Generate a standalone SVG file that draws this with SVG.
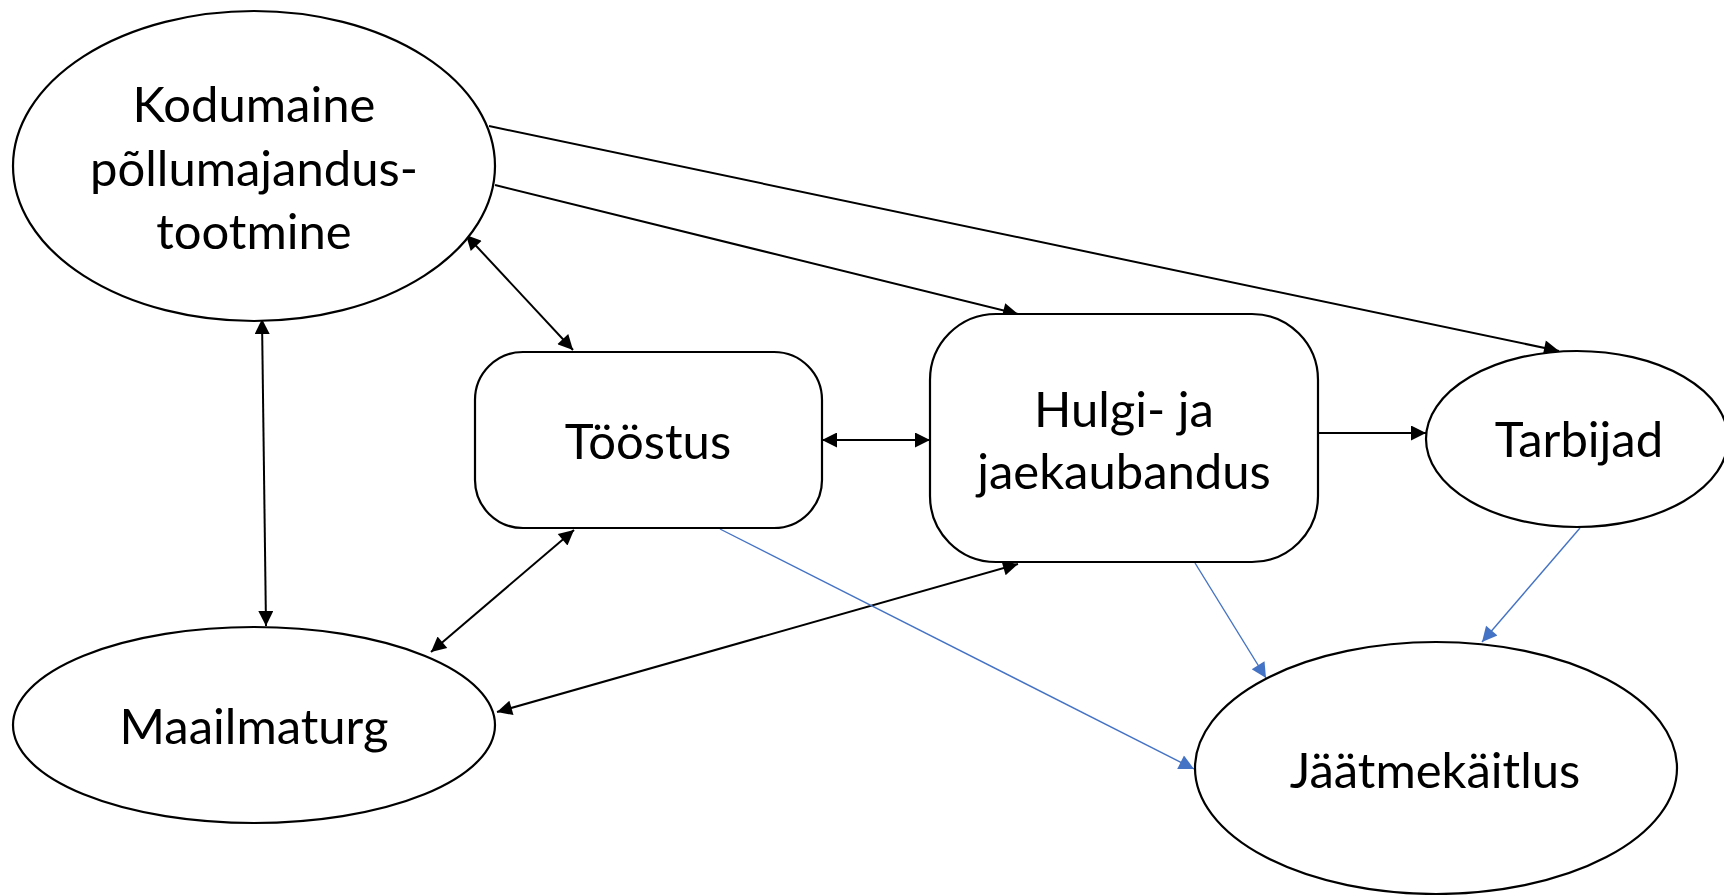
<svg xmlns="http://www.w3.org/2000/svg" width="1724" height="895" viewBox="0 0 1724 895">
<style>
.node{fill:#fff;stroke:#000;stroke-width:2.2}
.lbl{font-family:Lato,"Open Sans","Liberation Sans",sans-serif;font-size:49px;fill:#000;text-anchor:middle}
.blk{stroke:#000;stroke-width:2;fill:none}
.blu{stroke:#4472C4;stroke-width:1.4;fill:none}
</style>
<defs>
<marker id="ab" viewBox="0 0 10 10" refX="10" refY="5" markerWidth="18" markerHeight="15" markerUnits="userSpaceOnUse" orient="auto-start-reverse"><path d="M0,0 L10,5 L0,10 z" fill="#000"/></marker>
<marker id="au" viewBox="0 0 10 10" refX="10" refY="5" markerWidth="19" markerHeight="15" markerUnits="userSpaceOnUse" orient="auto-start-reverse"><path d="M0,0 L10,5 L0,10 z" fill="#4472C4"/></marker>
</defs>
<rect width="1724" height="895" fill="#fff"/>
<g id="connectors">
<line class="blk" x1="489" y1="126" x2="1559" y2="351" marker-end="url(#ab)"/>
<line class="blk" x1="495" y1="185" x2="1018" y2="314" marker-end="url(#ab)"/>
<line class="blk" x1="466" y1="235" x2="573" y2="350" marker-start="url(#ab)" marker-end="url(#ab)"/>
<line class="blk" x1="262" y1="319" x2="266" y2="626" marker-start="url(#ab)" marker-end="url(#ab)"/>
<line class="blk" x1="822" y1="440" x2="930" y2="440" marker-start="url(#ab)" marker-end="url(#ab)"/>
<line class="blk" x1="1318" y1="433" x2="1426" y2="433" marker-end="url(#ab)"/>
<line class="blk" x1="574" y1="530" x2="431" y2="652" marker-start="url(#ab)" marker-end="url(#ab)"/>
<line class="blk" x1="1018" y1="564" x2="497" y2="712" marker-start="url(#ab)" marker-end="url(#ab)"/>
<line class="blu" x1="720" y1="529" x2="1194" y2="769" marker-end="url(#au)"/>
<line class="blu" x1="1195" y1="563" x2="1266" y2="678" marker-end="url(#au)"/>
<line class="blu" x1="1580" y1="528" x2="1482" y2="642" marker-end="url(#au)"/>
</g>
<g id="kodumaine">
<ellipse class="node" cx="254" cy="166" rx="241" ry="155"/>
<text class="lbl" x="254" y="122">Kodumaine</text>
<text class="lbl" x="254" y="186">põllumajandus-</text>
<text class="lbl" x="254" y="249">tootmine</text>
</g>
<g id="toostus">
<rect class="node" x="475" y="352" width="347" height="176" rx="48" ry="48"/>
<text class="lbl" x="648" y="459">Tööstus</text>
</g>
<g id="hulgi">
<rect class="node" x="930" y="314" width="388" height="248" rx="66" ry="66"/>
<text class="lbl" x="1124" y="427">Hulgi- ja</text>
<text class="lbl" x="1124" y="489">jaekaubandus</text>
</g>
<g id="tarbijad">
<ellipse class="node" cx="1577" cy="439" rx="151" ry="88"/>
<text class="lbl" x="1579" y="457">Tarbijad</text>
</g>
<g id="maailmaturg">
<ellipse class="node" cx="254" cy="725" rx="241" ry="98"/>
<text class="lbl" x="254" y="744">Maailmaturg</text>
</g>
<g id="jaatmekaitlus">
<ellipse class="node" cx="1436" cy="768" rx="241" ry="126"/>
<text class="lbl" x="1435" y="788">Jäätmekäitlus</text>
</g>
</svg>
